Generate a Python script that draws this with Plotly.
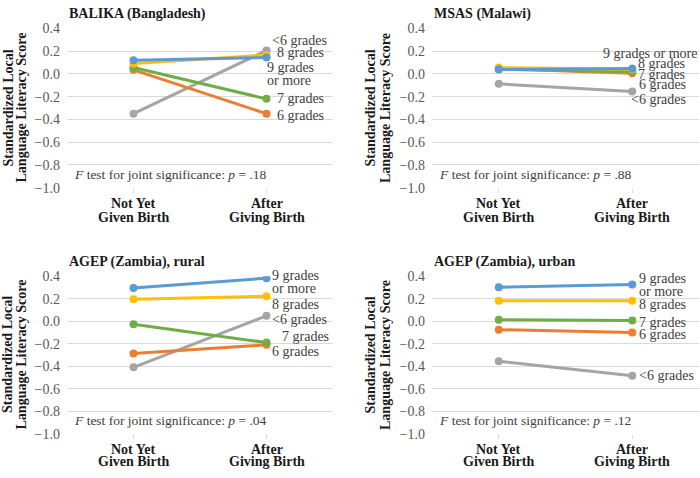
import plotly.graph_objects as go

W, H = 700, 478

categories = [["Not Yet", "Given Birth"], ["After", "Giving Birth"]]
groups = ["<6 grades", "6 grades", "7 grades", "8 grades", "9 grades or more"]
colors = ["#A5A5A5", "#ED7D31", "#70AD47", "#FFC000", "#5B9BD5"]

panel_titles = ["BALIKA (Bangladesh)", "MSAS (Malawi)",
                "AGEP (Zambia), rural", "AGEP (Zambia), urban"]
p_values = [".18", ".88", ".04", ".12"]

# values per group: [Not yet given birth, After giving birth]
balika = [[-0.35, 0.205], [0.035, -0.35], [0.055, -0.22], [0.09, 0.165], [0.12, 0.143]]
msas = [[-0.088, -0.155], [0.045, 0.005], [0.04, 0.02], [0.055, 0.04], [0.037, 0.047]]
rural = [[-0.41, 0.048], [-0.286, -0.21], [-0.026, -0.19], [0.195, 0.222], [0.296, 0.383]]
urban = [[-0.355, -0.485], [-0.075, -0.10], [0.014, 0.006], [0.183, 0.183], [0.303, 0.326]]
panels = [balika, msas, rural, urban]

y_ticks = [0.4, 0.2, 0.0, -0.2, -0.4, -0.6, -0.8, -1.0]
y_ticktext = ["%.1f" % v if v >= 0 else "\u2212%.1f" % abs(v) for v in y_ticks]

# --- layout (pixel geometry) ---
def px(x):
    return x / W

def py(y):
    return 1 - y / H

domains = [
    ((67, 333), (22, 186.5)),
    ((432, 699), (22, 186.5)),
    ((67, 333), (278, 440.5)),
    ((432, 699), (278, 440.5)),
]
ytitle_dx = [(-58.5, -45.5), (-61.5, -46), (-59, -45.5), (-61.5, -46)]
cat_dy = [(16.5, 30.5), (16.5, 30.5), (16, 29), (16, 29)]

# label lines, y of block centre (data units), x shift (px), anchor
label_specs = [
    [(["<6 grades"], 0.296, 3, "left"), (["8 grades"], 0.186, 8, "left"),
     (["9 grades", "or more"], 0.0, -2, "left"),
     (["7 grades"], -0.22, 8, "left"), (["6 grades"], -0.363, 8, "left")],
    [(["9 grades or more"], 0.178, 67, "right"), (["8 grades"], 0.093, 4, "left"),
     (["7 grades"], -0.008, 4, "left"),
     (["6 grades"], -0.093, 5, "left"), (["<6 grades"], -0.228, -3, "left")],
    [(["9 grades", "or more"], 0.347, 3, "left"), (["8 grades"], 0.153, 3, "left"),
     (["<6 grades"], 0.015, 3, "left"),
     (["7 grades"], -0.14, 13, "left"), (["6 grades"], -0.27, 3, "left")],
    [(["9 grades", "or more"], 0.324, 5, "left"), (["8 grades"], 0.147, 5, "left"),
     (["7 grades"], -0.009, 5, "left"),
     (["6 grades"], -0.12, 5, "left"), (["<6 grades"], -0.483, 5, "left")],
]
LINE_GAP = 13.5

SERIF = "Liberation Serif, Times New Roman, serif"
TXT = "#404040"
DARK = "#1a1a1a"

fig = go.Figure()
annotations = []

for i, data in enumerate(panels):
    ax = "" if i == 0 else str(i + 1)
    xa, ya = "x" + ax, "y" + ax
    for g, vals in enumerate(data):
        fig.add_trace(go.Scatter(
            x=[0, 1], y=vals, mode="lines+markers",
            line=dict(color=colors[g], width=3),
            marker=dict(color=colors[g], size=8),
            name=groups[g], showlegend=False,
            xaxis=xa, yaxis=ya, hoverinfo="skip"))
    (x0, x1), (y0, y1) = domains[i]
    fig.layout["xaxis" + ax] = dict(
        domain=[px(x0), px(x1)], range=[-0.5, 1.5], anchor=ya,
        tickvals=[0, 1], ticktext=["", ""], showgrid=False, zeroline=False,
        ticks="outside", ticklen=4, tickcolor="#D9D9D9",
        showline=False, fixedrange=True)
    fig.layout["yaxis" + ax] = dict(
        domain=[py(y1), py(y0)], range=[-1.0, 0.4], anchor=xa,
        tickvals=y_ticks, ticktext=y_ticktext, showgrid=True,
        gridcolor="#D9D9D9", gridwidth=1, zeroline=False, showline=False,
        ticks="", ticklabelstandoff=6,
        tickfont=dict(family=SERIF, size=14, color="#595959"), fixedrange=True)

    # category labels (two lines each)
    for c, lines in enumerate(categories):
        for k, line in enumerate(lines):
            annotations.append(dict(
                text="<b>" + line + "</b>", xref=xa, yref="paper", x=c,
                y=py(y1 + cat_dy[i][k]), xanchor="center", yanchor="middle",
                showarrow=False, font=dict(family=SERIF, size=14, color=DARK)))

    # panel title
    annotations.append(dict(
        text="<b>" + panel_titles[i] + "</b>", xref="paper", yref="paper",
        x=px(x0), y=py(y0 - 15), xanchor="left", yanchor="middle", showarrow=False,
        font=dict(family=SERIF, size=14, color=DARK)))
    # y axis title (two lines)
    for k, line in enumerate(["Standardized Local", "Language Literacy Score"]):
        annotations.append(dict(
            text="<b>" + line + "</b>", xref="paper", yref="paper",
            x=px(x0 + ytitle_dx[i][k]), y=py((y0 + y1) / 2),
            xanchor="center", yanchor="middle", textangle=-90, showarrow=False,
            font=dict(family=SERIF, size=14, color=DARK)))
    # F test note
    annotations.append(dict(
        text="<i>F</i> test for joint significance: <i>p</i> = " + p_values[i],
        xref="paper", yref="paper", x=px(x0 + 5), y=py(y1 - 13.5),
        xanchor="left", yanchor="middle", showarrow=False,
        font=dict(family=SERIF, size=13.5, color=TXT)))
    # series labels
    for lines, yv, xs, anc in label_specs[i]:
        n = len(lines)
        for k, line in enumerate(lines):
            annotations.append(dict(
                text=line, xref=xa, yref=ya, x=1, y=yv, xshift=xs,
                yshift=LINE_GAP * ((n - 1) / 2 - k),
                xanchor=anc, yanchor="middle", align="left", showarrow=False,
                font=dict(family=SERIF, size=14, color=TXT)))

fig.update_layout(
    width=W, height=H, margin=dict(l=0, r=0, t=0, b=0),
    paper_bgcolor="white", plot_bgcolor="white",
    annotations=annotations)

fig.write_html("out.html", config={"displayModeBar": False},
               post_script="document.body.style.margin='0';document.body.style.overflow='hidden';")
